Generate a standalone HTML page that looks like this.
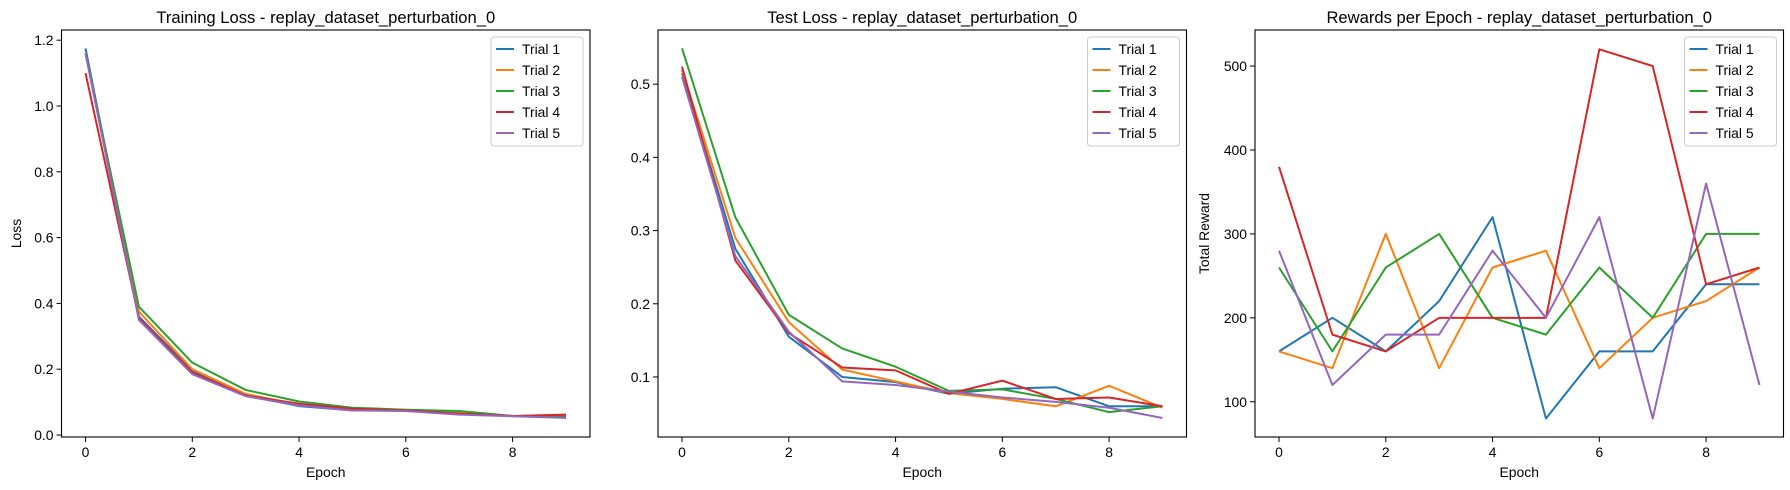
<!DOCTYPE html>
<html><head><meta charset="utf-8"><style>
html,body{margin:0;padding:0;background:#fff;}
svg{display:block;font-family:"Liberation Sans","DejaVu Sans",sans-serif;}
</style></head><body>
<svg id="fig" width="1790" height="490" viewBox="0 0 1790 490" xmlns="http://www.w3.org/2000/svg"></svg>
<script>
const epochs = [0,1,2,3,4,5,6,7,8,9];
const trialNames = ["Trial 1","Trial 2","Trial 3","Trial 4","Trial 5"];
const colors = ["#1f77b4","#ff7f0e","#2ca02c","#d62728","#9467bd"];
const xTicks = [0,2,4,6,8];

const trainT1 = [1.175,0.36,0.195,0.12,0.088,0.075,0.075,0.065,0.058,0.055];
const trainT2 = [1.16,0.375,0.2,0.125,0.092,0.078,0.073,0.067,0.058,0.06];
const trainT3 = [1.16,0.39,0.22,0.137,0.102,0.083,0.077,0.073,0.058,0.055];
const trainT4 = [1.10,0.355,0.19,0.12,0.095,0.08,0.075,0.065,0.058,0.062];
const trainT5 = [1.16,0.35,0.185,0.118,0.09,0.075,0.073,0.062,0.057,0.052];
const trainTicks = [0.0,0.2,0.4,0.6,0.8,1.0,1.2];
const trainTickLabels = ["0.0","0.2","0.4","0.6","0.8","1.0","1.2"];

const testT1 = [0.515,0.275,0.155,0.1,0.093,0.077,0.084,0.086,0.06,0.06];
const testT2 = [0.52,0.29,0.175,0.11,0.094,0.078,0.07,0.06,0.088,0.058];
const testT3 = [0.549,0.318,0.185,0.139,0.114,0.081,0.083,0.07,0.052,0.06];
const testT4 = [0.524,0.259,0.16,0.113,0.109,0.077,0.095,0.07,0.072,0.06];
const testT5 = [0.51,0.265,0.162,0.094,0.089,0.08,0.072,0.066,0.058,0.044];
const testTicks = [0.1,0.2,0.3,0.4,0.5];
const testTickLabels = ["0.1","0.2","0.3","0.4","0.5"];

const rewT1 = [160,200,160,220,320,80,160,160,240,240];
const rewT2 = [160,140,300,140,260,280,140,200,220,260];
const rewT3 = [260,160,260,300,200,180,260,200,300,300];
const rewT4 = [380,180,160,200,200,200,520,500,240,260];
const rewT5 = [280,120,180,180,280,200,320,80,360,120];
const rewTicks = [100,200,300,400,500];
const rewTickLabels = ["100","200","300","400","500"];

const NS = "http://www.w3.org/2000/svg";
const svg = document.getElementById("fig");
function mk(tag, attrs, parent){const e=document.createElementNS(NS,tag);for(const k in attrs)e.setAttribute(k,attrs[k]);(parent||svg).appendChild(e);return e;}

function panel(o){
  const g = mk("g",{});
  
  
  const L=o.left, R=o.left+528.5, T=30, B=437;
  const xs = v => L + (v - (-0.45)) / 9.9 * (R - L);
  const ys = v => B - (v - o.ymin) / (o.ymax - o.ymin) * (B - T);
  // series
  o.series.forEach((s,i)=>{
    const p = mk("polyline",{points:epochs.map((e,j)=>xs(e).toFixed(2)+","+ys(s[j]).toFixed(2)).join(" "),fill:"none",stroke:colors[i],"stroke-width":"2","stroke-linejoin":"round"},g);
    
    
  });
  const fr = mk("rect",{x:L,y:T,width:R-L,height:B-T,fill:"none",stroke:"#000","stroke-width":"1.1"},g);
  
  
  xTicks.forEach(t=>{
    const x=xs(t);
    mk("line",{x1:x,y1:B,x2:x,y2:B+5,stroke:"#000","stroke-width":"1"},g);
    const tx=mk("text",{x:x,y:B+20,"text-anchor":"middle","font-size":"13.9",fill:"#000"},g);
    tx.textContent=String(t);
    
    
  });
  o.yticks.forEach((t,i)=>{
    const y=ys(t);
    mk("line",{x1:L-5,y1:y,x2:L,y2:y,stroke:"#000","stroke-width":"1"},g);
    const tx=mk("text",{x:L-8,y:y+5,"text-anchor":"end","font-size":"13.9",fill:"#000"},g);
    tx.textContent=o.ylabels[i];
    
    
  });
  const xl=mk("text",{x:(L+R)/2,y:477,"text-anchor":"middle","font-size":"13.9",fill:"#000"},g);
  xl.textContent="Epoch";
  
  
  if(o.ytitle){
    const yl=mk("text",{x:o.ytx,y:(T+B)/2,"text-anchor":"middle","font-size":"13.9",fill:"#000",transform:"rotate(-90 "+o.ytx+" "+((T+B)/2)+")"},g);
    yl.textContent=o.ytitle;
    
    
  }
  const tt=mk("text",{x:(L+R)/2,y:23,"text-anchor":"middle","font-size":"16.6",fill:"#000"},g);
  tt.textContent=o.title;
  
  
  // legend
  const lg=mk("g",{},g);
  
  
  const lx=R-99, ly=37;
  mk("rect",{x:lx,y:ly,width:92,height:109,rx:3,fill:"#fff","fill-opacity":"0.8",stroke:"#ccc","stroke-width":"1"},lg);
  trialNames.forEach((n,i)=>{
    const y=ly+12+i*21;
    const ln=mk("line",{x1:lx+5,y1:y,x2:lx+23,y2:y,stroke:colors[i],"stroke-width":"2"},lg);
    
    
    const t=mk("text",{x:lx+31,y:y+5,"font-size":"13.9",fill:"#000"},lg);
    t.textContent=n;
    
    
  });
}

panel({name:"training-loss-chart",left:61.5,ymin:-0.006,ymax:1.231,yticks:trainTicks,ylabels:trainTickLabels,
  series:[trainT1,trainT2,trainT3,trainT4,trainT5],title:"Training Loss - replay_dataset_perturbation_0",ytitle:"Loss",ytx:21});
panel({name:"test-loss-chart",left:658,ymin:0.018,ymax:0.574,yticks:testTicks,ylabels:testTickLabels,
  series:[testT1,testT2,testT3,testT4,testT5],title:"Test Loss - replay_dataset_perturbation_0",ytitle:null});
panel({name:"rewards-chart",left:1255,ymin:58,ymax:543,yticks:rewTicks,ylabels:rewTickLabels,
  series:[rewT1,rewT2,rewT3,rewT4,rewT5],title:"Rewards per Epoch - replay_dataset_perturbation_0",ytitle:"Total Reward",ytx:1209});
</script>
</body></html>
